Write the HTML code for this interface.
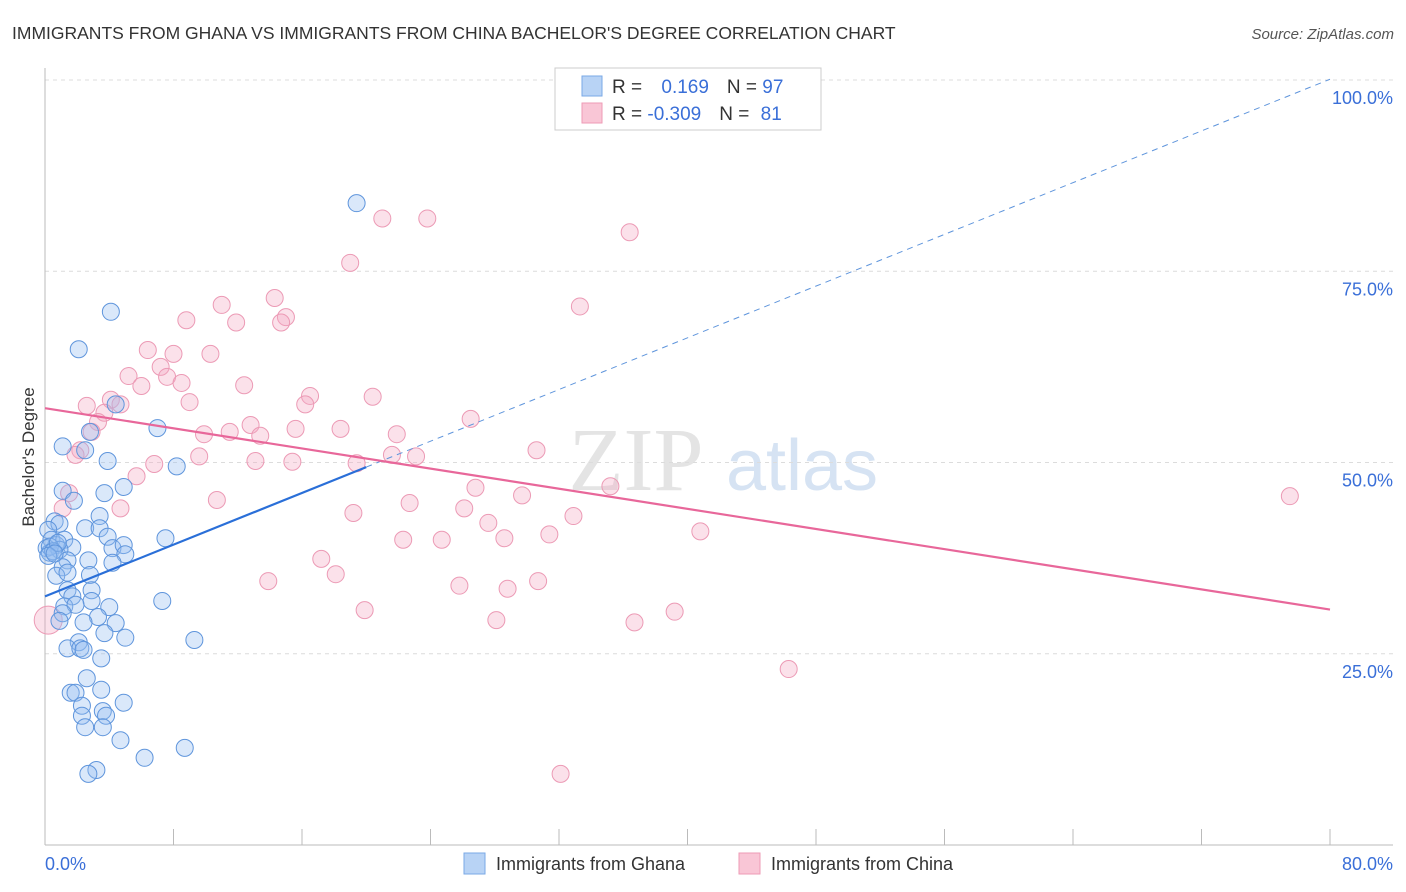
<!DOCTYPE html>
<html><head><meta charset="utf-8"><style>
body{margin:0;background:#fff;font-family:"Liberation Sans",sans-serif}
svg{display:block}
</style></head><body>
<svg id="c" width="1406" height="892" xmlns="http://www.w3.org/2000/svg">
<text x="12" y="39" font-size="17.5" fill="#333">IMMIGRANTS FROM GHANA VS IMMIGRANTS FROM CHINA BACHELOR'S DEGREE CORRELATION CHART</text>
<text x="1394" y="39" font-size="15" fill="#555" font-style="italic" text-anchor="end">Source: ZipAtlas.com</text>
<text transform="translate(34,457) rotate(-90)" font-size="17" fill="#333" text-anchor="middle">Bachelor's Degree</text>
<g>
<text x="636" y="490" font-size="90" fill="#e4e4e4" font-family="Liberation Serif,serif" text-anchor="middle">ZIP</text>
<text x="802" y="490" font-size="72" fill="#d6e3f3" text-anchor="middle">atlas</text>
</g>
<g id="grid"></g>
<g id="axes"></g>
<g id="pts"></g>
<g id="trend"></g>
<g>
<rect x="555" y="68" width="266" height="62" fill="#fff" stroke="#ccc"/>
<rect x="582" y="76" width="20" height="20" fill="#b8d3f5" stroke="#7aa8e6"/>
<rect x="582" y="103" width="20" height="20" fill="#f9c6d6" stroke="#ee9bb6"/>
<text x="612" y="93" font-size="19" fill="#333">R = <tspan fill="#3a6fd8" dx="14">0.169</tspan><tspan dx="18" fill="#333">N = </tspan><tspan fill="#3a6fd8">97</tspan></text>
<text x="612" y="120" font-size="19" fill="#333">R = <tspan fill="#3a6fd8">-0.309</tspan><tspan dx="18" fill="#333">N = </tspan><tspan fill="#3a6fd8" dx="6">81</tspan></text>
</g>
<g>
<rect x="464" y="853" width="21" height="21" fill="#b8d3f5" stroke="#7aa8e6"/>
<text x="496" y="870" font-size="18" fill="#333">Immigrants from Ghana</text>
<rect x="739" y="853" width="21" height="21" fill="#f9c6d6" stroke="#ee9bb6"/>
<text x="771" y="870" font-size="18" fill="#333">Immigrants from China</text>
</g>
</svg>
<script>
const yTicks=[25,50,75,100];
const yTickLabels=["25.0%","50.0%","75.0%","100.0%"];
const xTicks=[0,8,16,24,32,40,48,56,64,72,80];
const ghanaX=[19.4,4.1,2.1,4.4,7.0,2.8,1.1,2.5,3.9,8.2,4.9,1.1,3.7,1.8,0.6,0.9,3.4,2.5,3.4,3.9,7.5,0.2,0.4,0.7,1.2,1.7,0.1,0.3,0.9,4.2,4.9,5.0,2.7,1.4,1.1,4.2,0.7,2.8,1.4,1.4,2.9,1.7,2.9,1.2,1.9,4.0,7.3,1.1,3.3,0.9,2.4,4.4,3.7,5.0,9.3,2.1,1.4,2.2,2.4,3.5,2.6,1.6,1.9,3.5,4.9,2.3,3.6,2.3,3.8,2.5,3.6,4.7,8.7,6.2,3.2,2.7,0.3,0.5,0.8,0.2,0.6];
const ghanaY=[83.9,69.7,64.8,57.6,54.5,54.0,52.1,51.6,50.2,49.5,46.8,46.3,46.0,45.0,42.3,42.0,43.0,41.4,41.4,40.3,40.1,41.2,39.9,39.2,39.9,38.9,38.8,38.2,38.6,38.8,39.2,38.0,37.2,37.2,36.3,36.9,35.2,35.3,35.6,33.3,33.3,32.5,31.9,31.2,31.4,31.1,31.9,30.3,29.8,29.3,29.1,29.0,27.7,27.1,26.8,26.5,25.7,25.7,25.5,24.4,21.8,19.9,19.9,20.3,18.6,18.2,17.5,16.9,16.9,15.4,15.4,13.7,12.7,11.4,9.8,9.3,39.0,38.4,39.5,37.8,38.1];
const chinaX=[21.0,23.8,36.4,19.0,33.3,14.3,11.0,8.8,11.9,15.0,14.7,6.4,8.0,10.3,7.2,5.2,7.6,8.5,12.4,6.0,16.5,20.4,9.0,16.2,4.1,2.6,4.7,3.7,3.3,12.8,26.5,15.6,18.4,2.9,9.9,11.5,13.4,21.9,30.6,2.2,1.9,9.6,21.6,23.1,13.1,15.4,19.4,6.8,5.7,26.8,35.2,77.5,29.7,1.5,10.7,22.7,1.1,4.7,26.1,19.2,32.9,27.6,40.8,31.4,28.6,22.3,24.7,17.2,18.1,13.9,30.7,25.8,28.8,19.9,39.2,28.1,36.7,46.3,32.1,0.2];
const chinaY=[81.9,81.9,80.1,76.1,70.4,71.5,70.6,68.6,68.3,69.0,68.3,64.7,64.2,64.2,62.5,61.3,61.2,60.4,60.1,60.0,58.7,58.6,57.9,57.6,58.2,57.4,57.6,56.5,55.3,54.9,55.7,54.4,54.4,54.0,53.7,54.0,53.5,53.7,51.6,51.6,51.0,50.8,51.0,50.8,50.2,50.1,49.9,49.8,48.2,46.7,46.9,45.6,45.7,46.0,45.1,44.7,44.0,44.0,44.0,43.4,43.0,42.1,41.0,40.6,40.1,39.9,39.9,37.4,35.4,34.5,34.5,33.9,33.5,30.7,30.5,29.4,29.1,23.0,9.3,29.4];
const ghanaTrend=[32.5,0.845]; // intercept, slope
const chinaTrend=[57.1,-0.329];
const X0=45,X1=1330,Y0=845,Y100=80;
const sx=v=>X0+(v/80)*(X1-X0);
const sy=v=>Y0-(v/100)*(Y0-Y100);
const NS="http://www.w3.org/2000/svg";
function mk(tag,attrs,parent){const e=document.createElementNS(NS,tag);for(const k in attrs)e.setAttribute(k,attrs[k]);parent.appendChild(e);return e;}
const grid=document.getElementById('grid'),axes=document.getElementById('axes'),pts=document.getElementById('pts'),tr=document.getElementById('trend');
yTicks.forEach((t,i)=>{
 const l=mk('line',{x1:X0,x2:1393,y1:sy(t),y2:sy(t),stroke:'#dcdcdc','stroke-dasharray':'4,4'},grid);
 
 
 const tx=mk('text',{x:1393,y:sy(t)+24,'font-size':18,fill:'#3a6fd8','text-anchor':'end'},grid);
 tx.textContent=yTickLabels[i];
 
 
});
const ya=mk('line',{x1:X0,x2:X0,y1:68,y2:Y0,stroke:'#bbb'},axes);


const xa=mk('line',{x1:X0,x2:1393,y1:Y0,y2:Y0,stroke:'#bbb'},axes);


xTicks.forEach(t=>{
 const l=mk('line',{x1:sx(t),x2:sx(t),y1:Y0,y2:Y0-16,stroke:'#bbb'},axes);
 
 
});
const xl0=mk('text',{x:45,y:870,'font-size':18,fill:'#3a6fd8'},axes);xl0.textContent='0.0%';


const xl1=mk('text',{x:1393,y:870,'font-size':18,fill:'#3a6fd8','text-anchor':'end'},axes);xl1.textContent='80.0%';


chinaX.forEach((x,i)=>{
 const c=mk('circle',{cx:sx(x),cy:sy(chinaY[i]),r:i==chinaX.length-1?14:8.5,fill:'rgba(244,170,196,0.35)',stroke:'#ec9ab5','stroke-width':1},pts);
 
 
});
ghanaX.forEach((x,i)=>{
 const c=mk('circle',{cx:sx(x),cy:sy(ghanaY[i]),r:8.5,fill:'rgba(150,190,240,0.35)',stroke:'#5f95dc','stroke-width':1},pts);
 
 
});
const f=(t,x)=>t[0]+t[1]*x;
const d=mk('line',{x1:sx(20),y1:sy(f(ghanaTrend,20)),x2:sx(80),y2:sy(f(ghanaTrend,80)),stroke:'#5f95dc','stroke-width':1,'stroke-dasharray':'6,5'},tr);


const g=mk('line',{x1:sx(0),y1:sy(f(ghanaTrend,0)),x2:sx(20),y2:sy(f(ghanaTrend,20)),stroke:'#2a6fd8','stroke-width':2.2},tr);


const p=mk('line',{x1:sx(0),y1:sy(f(chinaTrend,0)),x2:sx(80),y2:sy(f(chinaTrend,80)),stroke:'#e8679a','stroke-width':2.2},tr);


</script>
</body></html>
